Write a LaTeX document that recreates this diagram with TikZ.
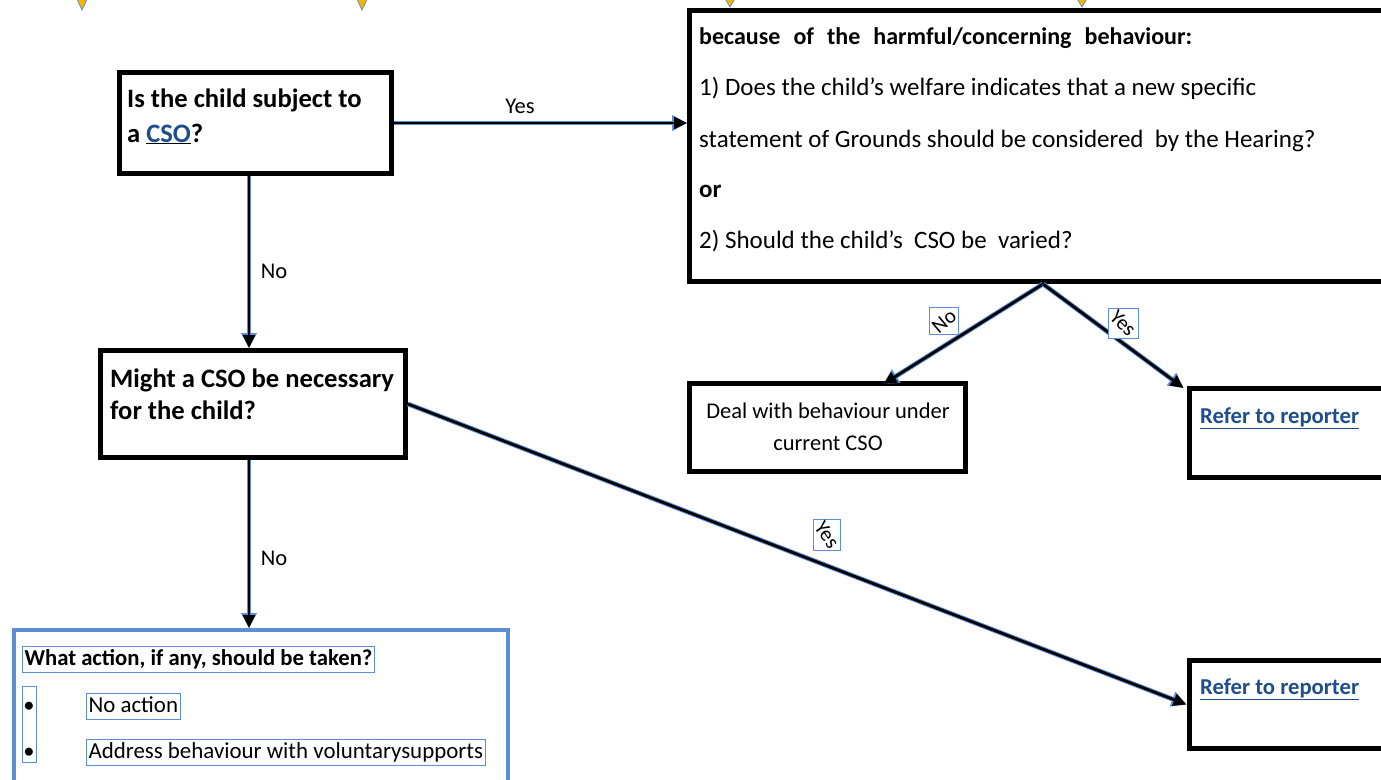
\documentclass[tikz,border=0pt]{standalone}
\usepackage{fontspec}
\setmainfont{Carlito}
\usetikzlibrary{arrows.meta}
\definecolor{linkblue}{HTML}{1F4E8C}
\definecolor{edgeblue}{HTML}{5B8ED6}
\definecolor{triyellow}{HTML}{F7B500}
\begin{document}
\begin{tikzpicture}[x=1pt,y=-1pt,
  box/.style={draw=black,line width=5pt,inner sep=0pt},
  conn/.style={draw=black,line width=2.8pt,-{Triangle[length=13pt,width=12pt]},
    preaction={draw=edgeblue,line width=4.8pt,-{Triangle[length=15pt,width=15pt]}}},
  lab/.style={inner sep=0pt,anchor=base,font=\fontsize{22.5}{26}\selectfont},
  rlab/.style={draw=edgeblue,line width=1pt,inner sep=0.5pt,font=\fontsize{21}{24}\selectfont},
  txt/.style={inner sep=0pt,anchor=base west,font=\fontsize{25}{30}\selectfont},
  ctxt/.style={inner sep=0pt,anchor=base,font=\fontsize{22.5}{26}\selectfont},
  btxt/.style={inner sep=0pt,anchor=base west,font=\fontsize{26.6}{34}\selectfont\bfseries},
  reftxt/.style={inner sep=0pt,anchor=base west,font=\fontsize{22.7}{26}\selectfont\bfseries,text=linkblue},
  tbox/.style={draw=edgeblue,line width=1pt,inner xsep=2pt,inner ysep=2.5pt,anchor=base west,
    text height=16pt,text depth=5pt,font=\fontsize{22.9}{26}\selectfont},
  tri/.style={fill=triyellow,draw=edgeblue,line width=0.8pt}
]
\useasboundingbox (0,0) rectangle (1381,779);

% partial arrowheads at top
\path[tri] (76,-3) -- (88,-3) -- (82,10) -- cycle;
\path[tri] (356,-3) -- (368,-3) -- (362,10) -- cycle;
\path[tri] (724,-3) -- (736,-3) -- (730,7) -- cycle;
\path[tri] (1076,-3) -- (1088,-3) -- (1082,7) -- cycle;

% boxes
\node[box,minimum width=272pt,minimum height=101pt] (A) at (255.5,123) {};
\node[box,minimum width=710pt,minimum height=271pt] (B) at (1044.5,146) {};
\node[box,minimum width=305pt,minimum height=107pt] (C) at (253,404) {};
\node[box,draw=edgeblue,line width=4pt,minimum width=494pt,minimum height=170pt] (D) at (261,715) {};
\node[box,minimum width=276pt,minimum height=88pt] (E) at (827.5,427.5) {};
\node[box,minimum width=211pt,minimum height=89pt] (G) at (1294.5,433) {};
\node[box,minimum width=211pt,minimum height=88pt] (F) at (1294.5,704.5) {};

% box A text
\node[btxt] (a1) at (127,107) {Is the child subject to};
\node[btxt] (a2) at (127,142) {a \underline{\textcolor{linkblue}{CSO}}?};

% box B text
\node[txt,font=\fontsize{24}{28}\selectfont\bfseries] (b1) at (699,44) {\makebox[493pt][s]{because of the harmful/concerning behaviour:}};
\node[txt] (b2) at (699,95) {1) Does the child’s welfare indicates that a new specific};
\node[txt] (b3) at (699,147) {statement of Grounds should be considered\ \ by the Hearing?};
\node[txt,font=\fontsize{25}{30}\selectfont\bfseries] (b4) at (699,197) {or};
\node[txt] (b5) at (699,248) {2) Should the child’s\ \ CSO be\ \ varied?};

% box C text
\node[btxt] (c1) at (110,387) {Might a CSO be necessary};
\node[btxt] (c2) at (110,419) {for the child?};

% box E text
\node[ctxt] (e1) at (828,418) {Deal with behaviour under};
\node[ctxt] (e2) at (828,450) {current CSO};

% refer boxes
\node[reftxt] (g1) at (1200,423) {\underline{Refer to reporter}};
\node[reftxt] (f1) at (1200,694) {\underline{Refer to reporter}};

% box D content
\node[tbox,font=\fontsize{22.7}{26}\selectfont\bfseries] (d1) at (22,665) {What action, if any, should be taken?};
\node[draw=edgeblue,line width=1pt,minimum width=14pt,minimum height=76pt,inner sep=0pt] (dl) at (29,724) {};
\node[ctxt] (db1) at (29,712) {•};
\node[ctxt] (db2) at (29,758) {•};
\node[tbox] (d2) at (86,712) {No action};
\node[tbox] (d3) at (86,758) {Address behaviour with voluntarysupports};

% connectors
\draw[conn] (A.east) -- (B.west |- A.east);
\draw[conn] (A.south -| 249,0) -- (C.north -| 249,0);
\draw[conn] (C.south -| 249,0) -- (D.north -| 249,0);
\draw[conn] (C.east) -- (F.west);
\coordinate (bs) at (1043,284);
\draw[conn] (bs) -- ([xshift=56pt,yshift=-3pt]E.north);
\draw[conn] (bs) -- ([xshift=-3pt,yshift=-2pt]G.north west);

% labels
\node[lab] (ly1) at (520,113) {Yes};
\node[lab] (ln1) at (274,278) {No};
\node[lab] (ln2) at (274,565) {No};
\node[rlab,fill=white] (ln3) at (944,321) {\rotatebox{40}{No}};
\node[rlab,fill=white] (ly2) at (1123,323) {\rotatebox{-45}{Yes}};
\node[rlab,fill=white] (ly3) at (827,535) {\rotatebox{-55}{Yes}};
\end{tikzpicture}
\end{document}
